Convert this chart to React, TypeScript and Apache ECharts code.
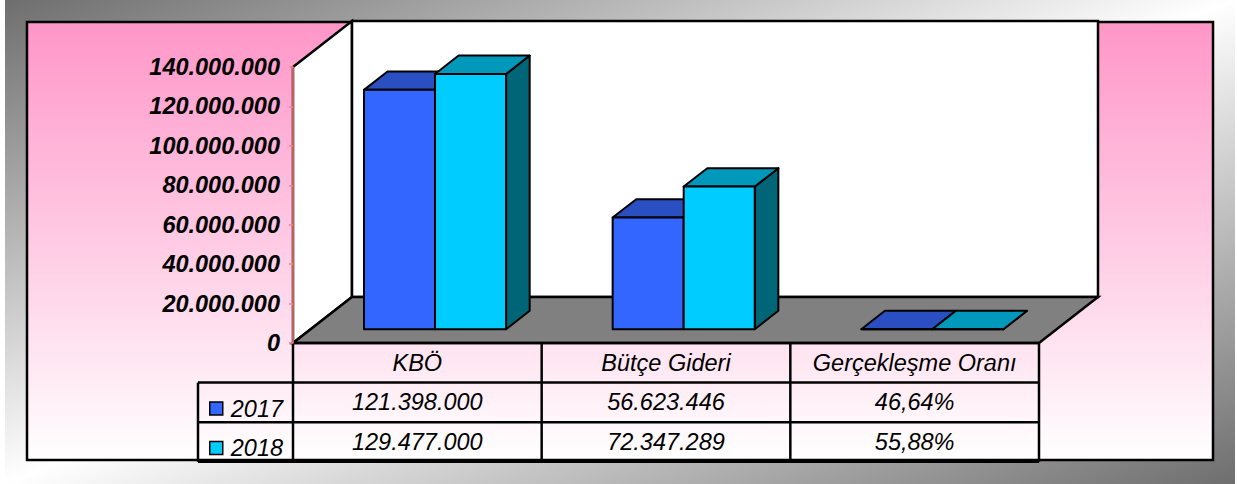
import { useEffect, useRef } from "react";
import * as echarts from "echarts";

// ---- data ----
const categories = ["KBÖ", "Bütçe Gideri", "Gerçekleşme Oranı"];
const seriesNames = ["2017", "2018"];
const values2017 = [121398000, 56623446, 0.4664];
const values2018 = [129477000, 72347289, 0.5588];
const percentCategory = [false, false, true];
const yMin = 0;
const yMax = 140000000;
const yInterval = 20000000;

// ---- styles ----
const FONT = "Arial, 'Liberation Sans', sans-serif";
const FS = 23.5;
const DX = 59;
const DY = -46;
const F0 = 0.3;
const F1 = 0.7;
const GAP = 1.5;
const ROW_H = 39.6;
const LEG_W = 95;
const barColors = [
  { front: "#3366ff", top: "#2a4fc2", side: "#1f3b99" },
  { front: "#00ccff", top: "#0099bb", side: "#006677" },
];

function dots(v: number): string {
  const s = Math.round(v).toString();
  return s.replace(/\B(?=(\d{3})+(?!\d))/g, ".");
}
function fmtCell(v: number, i: number): string {
  if (percentCategory[i]) return (v * 100).toFixed(2).replace(".", ",") + "%";
  return dots(v);
}

export default function App() {
  const ref = useRef<HTMLDivElement>(null);
  useEffect(() => {
    if (!ref.current) return;
    const chart = echarts.init(ref.current, undefined, { renderer: "svg" });
    const allValues = [values2017, values2018];

    const frameRender = (params: any, api: any) => {
      const cs = params.coordSys;
      const x0 = cs.x;
      const x1 = cs.x + cs.width;
      const yT = cs.y;
      const yB = cs.y + cs.height;
      const band = api.size([1, 0])[0];
      const ch: any[] = [];
      const black = { stroke: "#000", lineWidth: 2.5 };
      // side wall
      ch.push({
        type: "polygon",
        shape: { points: [[x0, yT], [x0 + DX, yT + DY], [x0 + DX, yB + DY], [x0, yB]] },
        style: { fill: "#ffffff", ...black },
      });
      // back wall
      ch.push({
        type: "rect",
        shape: { x: x0 + DX, y: yT + DY, width: x1 - x0, height: yB - yT },
        style: { fill: "#ffffff", ...black },
      });
      // floor
      ch.push({
        type: "polygon",
        shape: { points: [[x0, yB], [x0 + DX, yB + DY], [x1 + DX, yB + DY], [x1, yB]] },
        style: { fill: "#808080", ...black },
      });
      // table lines
      const line = (ax: number, ay: number, bx: number, by: number) =>
        ch.push({ type: "line", shape: { x1: ax, y1: ay, x2: bx, y2: by }, style: { ...black } });
      line(x0, yB, x1, yB);
      for (let r = 1; r <= 3; r++) line(x0 - LEG_W, yB + r * ROW_H, x1, yB + r * ROW_H);
      line(x0 - LEG_W, yB + ROW_H, x0 - LEG_W, yB + 3 * ROW_H);
      line(x0, yB, x0, yB + 3 * ROW_H);
      categories.forEach((_, i) => {
        const cx = api.coord([i, 0])[0];
        line(cx + band / 2, yB, cx + band / 2, yB + 3 * ROW_H);
      });
      // table texts
      const txt = (t: string, x: number, y: number) =>
        ch.push({
          type: "text",
          style: {
            text: t,
            x,
            y,
            textAlign: "center",
            textVerticalAlign: "middle",
            font: `italic ${FS}px ${FONT}`,
            fill: "#000",
          },
        });
      categories.forEach((c, i) => {
        const cx = api.coord([i, 0])[0];
        txt(c, cx, yB + ROW_H * 0.5);
        allValues.forEach((vals, s) => txt(fmtCell(vals[i], i), cx, yB + ROW_H * (1.5 + s)));
      });
      return { type: "group", children: ch };
    };

    const barRender = (s: number) => (params: any, api: any) => {
      const cat = api.value(0);
      const val = api.value(1);
      const base = api.coord([cat, 0]);
      const top = api.coord([cat, val]);
      const band = api.size([1, 0])[0];
      const bw = band / (2 + GAP);
      const xa = base[0] - bw + s * bw;
      const xb = xa + bw;
      const ox0 = DX * F0, oy0 = DY * F0, ox1 = DX * F1, oy1 = DY * F1;
      const yt = top[1];
      const yb = base[1];
      const c = barColors[s];
      const st = { stroke: "#000", lineWidth: 2, lineJoin: "round" };
      return {
        type: "group",
        children: [
          {
            type: "polygon",
            shape: { points: [[xb + ox0, yt + oy0], [xb + ox1, yt + oy1], [xb + ox1, yb + oy1], [xb + ox0, yb + oy0]] },
            style: { fill: c.side, ...st },
          },
          {
            type: "polygon",
            shape: { points: [[xa + ox0, yt + oy0], [xb + ox0, yt + oy0], [xb + ox1, yt + oy1], [xa + ox1, yt + oy1]] },
            style: { fill: c.top, ...st },
          },
          {
            type: "rect",
            shape: { x: xa + ox0, y: yt + oy0, width: bw, height: Math.max(yb - yt, 0) },
            style: { fill: c.front, ...st },
          },
        ],
      };
    };

    const option: any = {
      animation: false,
      backgroundColor: "#ffffff",
      graphic: {
        elements: [
          {
            type: "rect",
            z: -20,
            silent: true,
            shape: { x: 5, y: 0, width: 1230, height: 484 },
            style: {
              fill: new echarts.graphic.LinearGradient(0, 0, 1, 1, [
                { offset: 0, color: "#6e6e6e" },
                { offset: 0.5, color: "#ffffff" },
                { offset: 1, color: "#6e6e6e" },
              ]),
            },
          },
          {
            type: "rect",
            z: -10,
            silent: true,
            shape: { x: 27, y: 22, width: 1186, height: 438 },
            style: {
              fill: new echarts.graphic.LinearGradient(0, 0, 0, 1, [
                { offset: 0, color: "#ff96c8" },
                { offset: 1, color: "#ffffff" },
              ]),
              stroke: "#000",
              lineWidth: 2.5,
            },
          },
        ],
      },
      grid: { left: 293, right: 198, top: 67, bottom: 141, containLabel: false },
      xAxis: {
        type: "category",
        data: categories,
        axisLine: { show: false },
        axisTick: { show: false },
        axisLabel: { show: false },
        splitLine: { show: false },
      },
      yAxis: {
        type: "value",
        min: yMin,
        max: yMax,
        interval: yInterval,
        axisLine: { show: true, lineStyle: { color: "#ff8080", width: 1.5 } },
        axisTick: { show: true, length: 4, lineStyle: { color: "#ff8080", width: 1.5 } },
        splitLine: { show: false },
        axisLabel: {
          margin: 13,
          color: "#000",
          fontSize: FS,
          fontWeight: "bold",
          fontStyle: "italic",
          fontFamily: FONT,
          formatter: (v: number) => dots(v),
        },
      },
      legend: {
        data: seriesNames,
        orient: "vertical",
        left: 204,
        top: 391.5,
        itemWidth: 13,
        itemHeight: 13,
        itemGap: 15.6,
        icon: "rect",
        selectedMode: false,
        itemStyle: { borderColor: "#000", borderWidth: 1.5 },
        textStyle: {
          fontSize: FS,
          fontStyle: "italic",
          fontFamily: FONT,
          color: "#000",
          lineHeight: 24,
          padding: [0, 0, 0, 3],
        },
      },
      series: [
        {
          type: "custom",
          name: "frame",
          z: -1,
          silent: true,
          renderItem: frameRender,
          data: [[0, 0]],
        },
        ...seriesNames.map((name, s) => ({
          type: "custom",
          name,
          z: 2 + s,
          color: barColors[s].front,
          itemStyle: { color: barColors[s].front },
          renderItem: barRender(s),
          encode: { x: 0, y: 1 },
          data: allValues[s].map((v, i) => [i, v]),
        })),
      ],
    };
    chart.setOption(option);
    return () => chart.dispose();
  }, []);
  return (
    <div
      ref={ref}
      style={{ position: "fixed", left: 0, top: 0, width: 1237, height: 484 }}
    />
  );
}
